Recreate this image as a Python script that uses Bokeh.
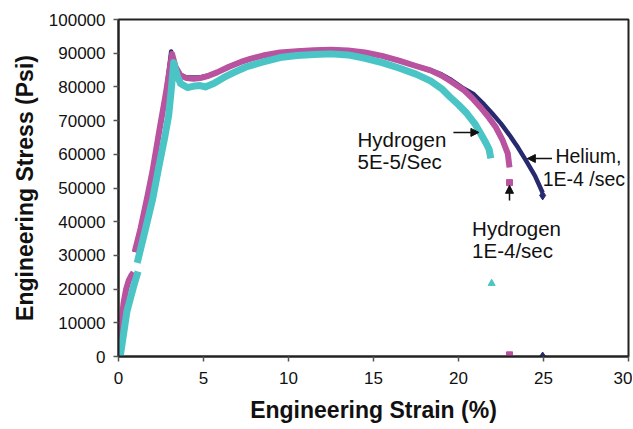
import math
from bokeh.plotting import figure
from bokeh.models import Range1d, FixedTicker, Arrow, NormalHead, Label, NumeralTickFormatter
from bokeh.embed import file_html
from bokeh.resources import INLINE

nan = float("nan")

# Helium, 1E-4 /sec (navy)
he_strain = [0, 0.15, 0.3, 0.45, 0.6, 0.75, 0.88, nan, 0.95, 1.3, 1.7, 2.0, 2.4, 2.8, 3.1,
             3.35, 3.65, 4.0, 4.4, 4.8, 5.3, 5.8, 6.5, 7.2, 7.8, 8.5, 9.5, 10.5, 11.5, 12.5,
             13.5, 14.5, 15.5, 16.5, 17.5, 18.35, 19.0, 19.5, 20.3, 20.9, 21.5, 22.0, 22.5,
             23.0, 23.5, 24.0, 24.5, 24.95]
he_stress = [0, 9000, 16000, 20000, 22500, 24000, 24900, nan, 31000, 38000, 47500, 55000, 67000,
             78500, 90500, 86200, 83600, 82800, 82800, 82800, 83400, 84300, 86000, 87400, 88400,
             89300, 90200, 90600, 90900, 91000, 90800, 90200, 89200, 87800, 86200, 85000, 83700,
             82300, 79500, 77800, 74800, 72000, 69100, 65700, 62000, 57900, 53600, 48600]

# Hydrogen 1E-4/sec (magenta)
h1_strain = [0, 0.15, 0.3, 0.45, 0.6, 0.75, 0.88, nan, 0.95, 1.3, 1.7, 2.0, 2.4, 2.8, 3.15,
             3.35, 3.65, 4.0, 4.4, 4.8, 5.3, 5.8, 6.5, 7.2, 7.8, 8.5, 9.5, 10.5, 11.5, 12.5,
             13.5, 14.5, 15.5, 16.5, 17.5, 18.35, 19.0, 19.5, 20.3, 20.8, 21.3, 21.8, 22.2,
             22.6, 22.9, 23.0]
h1_stress = [0, 9000, 16000, 20000, 22500, 24000, 24900, nan, 31000, 38000, 47500, 55000, 67000,
             78500, 89800, 86000, 83400, 82600, 82400, 82600, 83300, 84300, 86000, 87400, 88400,
             89300, 90200, 90600, 90900, 91000, 90800, 90200, 89200, 87800, 86200, 84900, 83400,
             81800, 79100, 76700, 73900, 70800, 68000, 64100, 60200, 56100]

# Hydrogen 5E-5/Sec (cyan)
h5_strain = [0.1, 0.5, 0.9, 1.15, nan, 1.1, 1.5, 2.0, 2.4, 2.7, 2.95, 3.1, 3.25, 3.45, 3.65,
             4.05, 4.5, 4.8, 5.1, 5.6, 6.2, 6.8, 7.5, 8.35, 9.5, 10.5, 11.5, 12.5, 13.5, 14.5,
             15.5, 16.5, 17.5, 18.35, 19.0, 19.5, 20.0, 20.5, 21.0, 21.3, 21.6, 21.8, 21.9]
h5_stress = [0, 13500, 21000, 25200, nan, 27800, 36000, 46500, 57000, 64500, 71500, 79000, 87200,
             83400, 81000, 79800, 80300, 80400, 80000, 81000, 82800, 84300, 85900, 87200, 88700,
             89300, 89600, 89800, 89500, 88500, 87200, 85600, 83800, 81800, 79500, 77000, 74700,
             72100, 68800, 66200, 63500, 61500, 58800]

# isolated end / failure points
he_pts_x = [24.95, 24.95]
he_pts_y = [47800, 0]
h1_pts_x = [23.0, 23.0]
h1_pts_y = [51600, 500]
h5_pts_x = [21.95]
h5_pts_y = [21700]

x_ticks = [0, 5, 10, 15, 20, 25, 30]
y_ticks = [0, 10000, 20000, 30000, 40000, 50000, 60000, 70000, 80000, 90000, 100000]

NAVY = "#272A6F"
PINK = "#B9539F"
CYAN = "#4BC4C6"
FONT = "Liberation Sans"

p = figure(width=632, height=428, x_range=Range1d(0, 30), y_range=Range1d(0, 100000),
           output_backend="svg", toolbar_location=None,
           min_border_left=118, min_border_right=4, min_border_top=19, min_border_bottom=72)

p.xgrid.visible = False
p.ygrid.visible = False
p.outline_line_color = "#222222"
p.outline_line_width = 2
p.background_fill_color = "white"
p.border_fill_color = "white"

p.line(he_strain, he_stress, line_color=NAVY, line_width=4.5, line_join="round")
p.line(h1_strain, h1_stress, line_color=PINK, line_width=6, line_join="round")
p.line(h5_strain, h5_stress, line_color=CYAN, line_width=7, line_join="round")

p.scatter(he_pts_x, he_pts_y, marker="diamond", size=9, color=NAVY)
p.scatter(h1_pts_x, h1_pts_y, marker="square", size=6, color=PINK)
p.scatter(h5_pts_x, h5_pts_y, marker="triangle", size=7, color=CYAN)

for ax in (p.xaxis[0], p.yaxis[0]):
    ax.axis_line_color = "#222222"
    ax.axis_line_width = 2
    ax.major_tick_in = 0
    ax.major_tick_out = 5
    ax.major_tick_line_color = "#555555"
    ax.major_tick_line_width = 1.5
    ax.minor_tick_line_color = None
    ax.major_label_text_font = FONT
    ax.major_label_text_font_size = "17px"
    ax.major_label_text_color = "#111111"
    ax.axis_label_text_font = FONT
    ax.axis_label_text_font_style = "bold"
    ax.axis_label_text_font_size = "23px"
    ax.axis_label_text_color = "#111111"

p.xaxis.ticker = FixedTicker(ticks=x_ticks)
p.yaxis.ticker = FixedTicker(ticks=y_ticks)
p.yaxis.formatter = NumeralTickFormatter(format="0")
p.xaxis.axis_label = "Engineering Strain (%)"
p.yaxis.axis_label = "Engineering Stress (Psi)"
p.xaxis.major_label_standoff = 10
p.xaxis.axis_label_standoff = 10
p.yaxis.major_label_standoff = 8
p.yaxis.axis_label_standoff = 8

def lab(x, y, t, size="20.5px"):
    p.add_layout(Label(x=x, y=y, text=t, text_font=FONT, text_font_size=size,
                       text_color="#111111", text_align="left", text_baseline="alphabetic"))

lab(14.06, 64400, "Hydrogen")
lab(14.06, 57900, "5E-5/Sec")
lab(25.7, 59600, "Helium,", "19.5px")
lab(24.95, 52800, "1E-4 /sec", "19.5px")
lab(20.8, 38000, "Hydrogen")
lab(20.8, 31500, "1E-4/sec")

def arr(x0, y0, x1, y1):
    p.add_layout(Arrow(end=NormalHead(size=8, line_color="#111111", fill_color="#111111"),
                       x_start=x0, y_start=y0, x_end=x1, y_end=y1,
                       line_color="#111111", line_width=1.5))

arr(19.7, 66500, 21.2, 66500)
arr(25.5, 58750, 24.05, 58750)
arr(23.0, 46300, 23.0, 50800)

open("out.html", "w").write(file_html(p, INLINE))
